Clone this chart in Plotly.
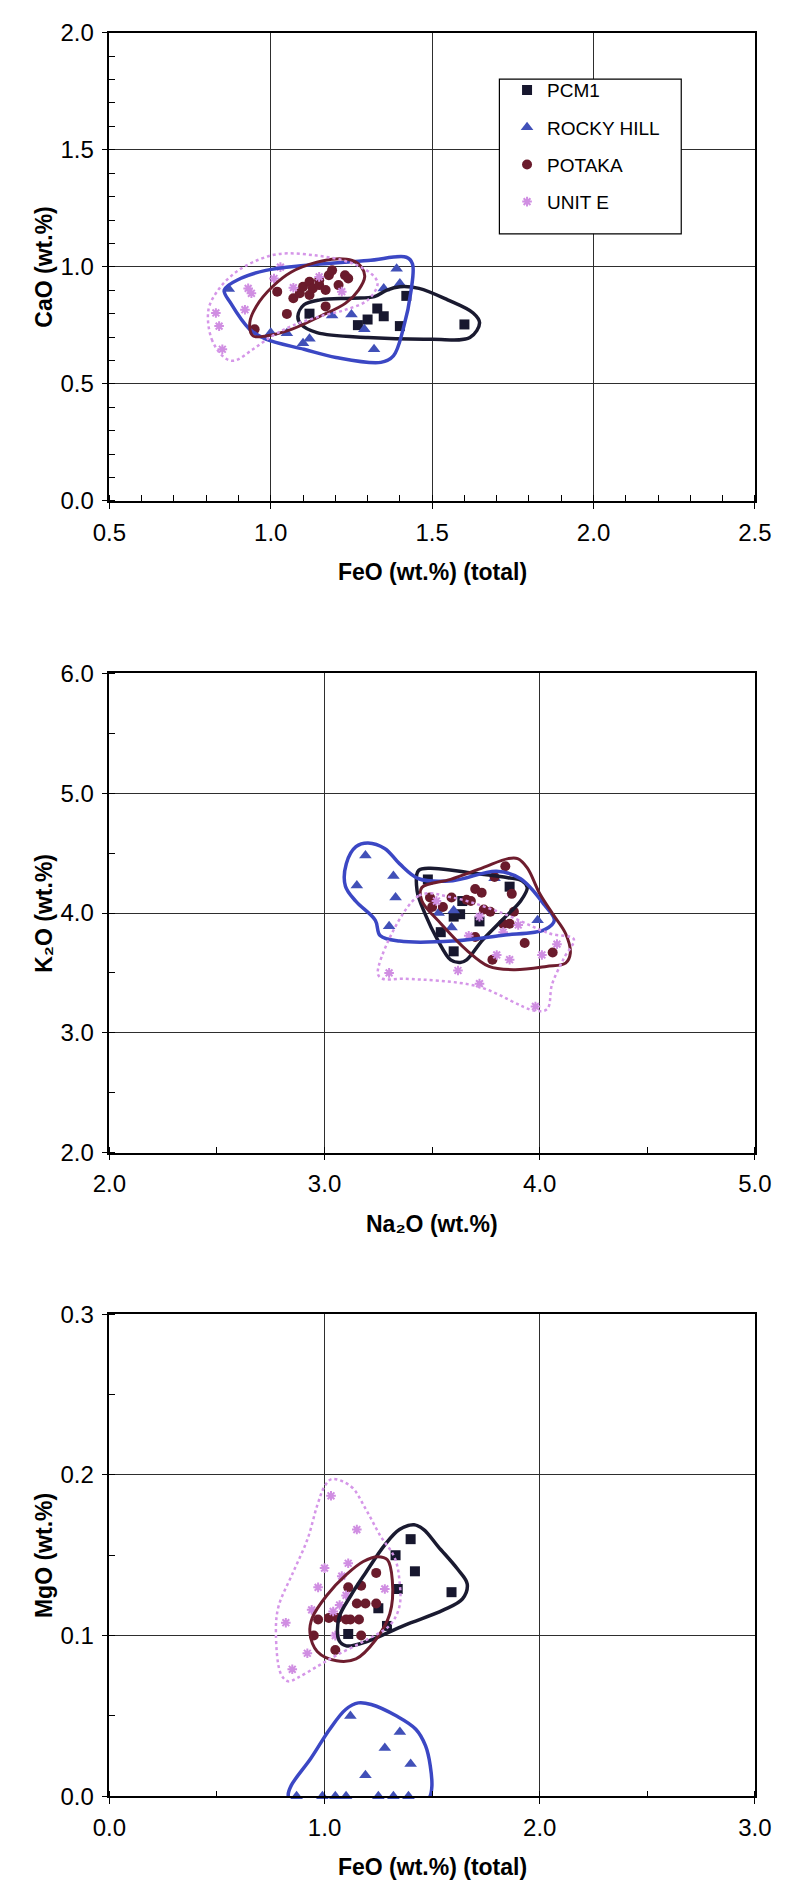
import plotly.graph_objects as go

# ---------------- Panel 1: FeO (total) vs CaO ----------------
p1_pcm1_x = [1.12, 1.42, 1.33, 1.35, 1.30, 1.27, 1.40, 1.60]
p1_pcm1_y = [0.80, 0.876, 0.822, 0.789, 0.775, 0.751, 0.747, 0.754]
p1_rocky_x = [0.87, 1.39, 1.40, 1.35, 1.25, 1.19, 1.29, 1.12, 1.10, 1.32, 1.05, 1.00]
p1_rocky_y = [0.905, 0.992, 0.929, 0.908, 0.796, 0.792, 0.733, 0.693, 0.674, 0.648, 0.716, 0.719]
p1_potaka_x = [0.95, 1.05, 1.02, 1.07, 1.09, 1.10, 1.12, 1.13, 1.15, 1.15, 1.17, 1.18,
               1.19, 1.17, 1.21, 1.23, 1.24, 1.12]
p1_potaka_y = [0.733, 0.799, 0.894, 0.866, 0.887, 0.915, 0.936, 0.908, 0.922, 0.943, 0.901, 0.964,
               0.985, 0.831, 0.922, 0.964, 0.950, 0.88]
p1_unite_x = [0.93, 0.94, 0.92, 0.83, 0.84, 0.85, 1.01, 1.03, 1.07, 1.15, 1.22]
p1_unite_y = [0.908, 0.887, 0.817, 0.803, 0.747, 0.648, 0.950, 0.999, 0.911, 0.957, 0.894]

# field outlines, panel 1
p1_env_pcm1_x = [1.084, 1.094, 1.143, 1.301, 1.499, 1.617, 1.647, 1.627, 1.548, 1.459, 1.400,
                 1.360, 1.321, 1.252, 1.153, 1.103]
p1_env_pcm1_y = [0.789, 0.754, 0.719, 0.698, 0.691, 0.698, 0.761, 0.803, 0.859, 0.908, 0.915,
                 0.901, 0.873, 0.866, 0.859, 0.838]
p1_env_rocky_x = [0.856, 0.876, 0.935, 0.985, 1.103, 1.202, 1.341, 1.380, 1.410, 1.435, 1.439,
                  1.420, 1.301, 1.103, 0.985, 0.906]
p1_env_rocky_y = [0.901, 0.845, 0.733, 0.691, 0.648, 0.613, 0.592, 0.620, 0.733, 0.901, 1.013,
                  1.041, 1.027, 1.006, 0.985, 0.950]
p1_env_potaka_x = [0.945, 0.985, 1.064, 1.153, 1.232, 1.272, 1.291, 1.281, 1.252, 1.202, 1.143,
                   1.064, 1.005, 0.955, 0.935]
p1_env_potaka_y = [0.705, 0.705, 0.733, 0.789, 0.845, 0.901, 0.957, 0.999, 1.027, 1.034, 1.020,
                   0.978, 0.915, 0.831, 0.761]
p1_env_unite_x = [0.807, 0.817, 0.856, 0.886, 0.945, 1.005, 1.064, 1.153, 1.232, 1.301, 1.331,
                  1.311, 1.242, 1.143, 1.024, 0.945, 0.886, 0.837]
p1_env_unite_y = [0.817, 0.691, 0.613, 0.599, 0.648, 0.705, 0.747, 0.789, 0.817, 0.859, 0.929,
                  0.971, 1.020, 1.048, 1.055, 1.020, 0.971, 0.901]

# ---------------- Panel 2: Na2O vs K2O ----------------
p2_pcm1_x = [3.48, 3.86, 3.64, 3.63, 3.60, 3.72, 3.54, 3.60]
p2_pcm1_y = [4.28, 4.22, 4.10, 3.99, 3.97, 3.93, 3.84, 3.68]
p2_rocky_x = [3.19, 3.15, 3.32, 3.33, 3.30, 3.53, 3.60, 3.59, 3.79, 3.99]
p2_rocky_y = [4.48, 4.23, 4.31, 4.13, 3.89, 4.00, 4.02, 3.88, 4.29, 3.94]
p2_potaka_x = [3.84, 3.79, 3.70, 3.73, 3.87, 3.59, 3.49, 3.50, 3.55, 3.66, 3.68, 3.74, 3.77,
               3.88, 3.83, 3.86, 3.70, 3.93, 3.78, 4.06]
p2_potaka_y = [4.39, 4.30, 4.20, 4.17, 4.16, 4.13, 4.13, 4.05, 4.05, 4.11, 4.10, 4.03, 4.01,
               4.01, 3.91, 3.91, 3.80, 3.75, 3.61, 3.67]
p2_unite_x = [3.30, 3.62, 3.72, 3.98, 3.80, 3.86, 4.01, 4.08, 3.83, 3.67, 3.52, 3.72, 3.90]
p2_unite_y = [3.50, 3.52, 3.41, 3.22, 3.65, 3.61, 3.65, 3.74, 3.84, 3.81, 4.10, 3.97, 3.90]

p2_env_pcm1_x = [3.437, 3.512, 3.675, 3.853, 3.919, 3.942, 3.912, 3.823, 3.734, 3.660, 3.630,
                 3.586, 3.526, 3.467, 3.430]
p2_env_pcm1_y = [4.355, 4.372, 4.336, 4.295, 4.267, 4.213, 4.103, 3.938, 3.774, 3.609, 3.587,
                 3.609, 3.774, 3.993, 4.185]
p2_env_rocky_x = [3.202, 3.146, 3.101, 3.097, 3.146, 3.236, 3.258, 3.348, 3.596, 3.821, 4.023,
                  4.068, 4.023, 3.911, 3.799, 3.596, 3.438, 3.348, 3.281]
p2_env_rocky_y = [4.585, 4.554, 4.412, 4.223, 4.097, 3.939, 3.813, 3.766, 3.766, 3.813, 3.861,
                  3.939, 4.065, 4.286, 4.349, 4.270, 4.286, 4.412, 4.537]
p2_env_potaka_x = [3.452, 3.586, 3.734, 3.853, 3.897, 3.942, 4.001, 4.060, 4.120, 4.142, 4.120,
                   4.031, 3.882, 3.764, 3.660, 3.541, 3.452]
p2_env_potaka_y = [4.213, 4.281, 4.377, 4.454, 4.454, 4.377, 4.158, 3.993, 3.829, 3.664, 3.582,
                   3.554, 3.527, 3.554, 3.691, 3.911, 4.103]
p2_env_unite_x = [3.247, 3.438, 3.596, 3.821, 4.046, 4.158, 4.113, 4.057, 4.035, 3.978, 3.708,
                  3.371, 3.270]
p2_env_unite_y = [3.498, 4.144, 4.128, 4.002, 3.829, 3.782, 3.625, 3.404, 3.199, 3.184, 3.389,
                  3.451, 3.451]

# ---------------- Panel 3: FeO (total) vs MgO ----------------
p3_pcm1_x = [1.40, 1.33, 1.42, 1.34, 1.59, 1.25, 1.29, 1.11]
p3_pcm1_y = [0.160, 0.150, 0.140, 0.129, 0.127, 0.117, 0.106, 0.101]
p3_rocky_x = [1.12, 1.35, 1.28, 1.40, 1.19, 0.87, 0.99, 1.05, 1.10, 1.25, 1.32, 1.39]
p3_rocky_y = [0.050, 0.040, 0.030, 0.020, 0.013, 0.0, 0.0, 0.0, 0.0, 0.0, 0.0, 0.0]
p3_potaka_x = [0.95, 1.05, 0.97, 1.02, 1.06, 1.11, 1.17, 1.15, 1.19, 1.24, 1.24, 1.12, 1.16,
               1.17, 1.10]
p3_potaka_y = [0.100, 0.091, 0.110, 0.111, 0.111, 0.130, 0.131, 0.120, 0.120, 0.120, 0.139,
               0.110, 0.110, 0.100, 0.110]
p3_unite_x = [1.03, 1.15, 1.11, 1.00, 1.08, 0.97, 1.28, 1.07, 0.94, 1.04, 0.82, 0.92, 0.85,
              1.05, 1.10]
p3_unite_y = [0.187, 0.166, 0.145, 0.142, 0.137, 0.130, 0.129, 0.119, 0.116, 0.115, 0.108,
              0.089, 0.079, 0.100, 0.125]

p3_env_pcm1_x = [1.416, 1.348, 1.281, 1.191, 1.123, 1.067, 1.067, 1.101, 1.191, 1.371, 1.551,
                 1.641, 1.663, 1.618, 1.528, 1.461]
p3_env_pcm1_y = [0.169, 0.166, 0.1566, 0.1391, 0.1251, 0.1111, 0.0971, 0.0936, 0.096, 0.1064,
                 0.1158, 0.1228, 0.1321, 0.1414, 0.1554, 0.166]
p3_env_rocky_x = [0.831, 0.846, 0.935, 1.024, 1.098, 1.157, 1.217, 1.335, 1.424, 1.469, 1.491,
                  1.498, 1.484, 1.395, 1.128, 0.905, 0.839]
p3_env_rocky_y = [0.0008, 0.0069, 0.0233, 0.0417, 0.054, 0.0581, 0.0571, 0.0499, 0.0417, 0.0315,
                  0.0192, 0.0049, -0.0012, -0.0043, -0.0053, -0.0043, -0.0023]
p3_env_potaka_x = [0.932, 0.966, 1.056, 1.146, 1.236, 1.303, 1.315, 1.292, 1.247, 1.180, 1.101,
                   1.011, 0.943]
p3_env_potaka_y = [0.1018, 0.0901, 0.0843, 0.0855, 0.0971, 0.1134, 0.1344, 0.1472, 0.1491,
                   0.1461, 0.1379, 0.1251, 0.1111]
p3_env_unite_x = [1.033, 1.123, 1.191, 1.258, 1.326, 1.348, 1.348, 1.303, 1.191, 1.056, 0.966,
                  0.876, 0.831, 0.797, 0.774, 0.786, 0.853, 0.921, 0.966, 1.000]
p3_env_unite_y = [0.1974, 0.1928, 0.1788, 0.1624, 0.1484, 0.1344, 0.1181, 0.1064, 0.0971,
                  0.0878, 0.0808, 0.0738, 0.0715, 0.0761, 0.1018, 0.1181, 0.1391, 0.1601,
                  0.181, 0.1928]

SERIES = ["PCM1", "ROCKY HILL", "POTAKA", "UNIT E"]

W, H = 793, 1896
X0, X1 = 96.5, 771.0
FONT = "Liberation Sans, Arial, sans-serif"

marker_style = {
    "PCM1": dict(symbol="square", color="#17172e", size=10),
    "ROCKY HILL": dict(symbol="triangle-up", color="#4150b8", size=11),
    "POTAKA": dict(symbol="circle", color="#6a1b2c", size=10),
    "UNIT E": dict(symbol="asterisk-open", color="#d08ee2", size=8,
                   line=dict(color="#d08ee2", width=2)),
}
outline_style = {
    "PCM1": dict(color="#1a1a30", width=3.5),
    "ROCKY HILL": dict(color="#3b47c4", width=3.5),
    "POTAKA": dict(color="#6e1d2e", width=3),
    "UNIT E": dict(color="#d596e8", width=2.5, dash="dot"),
}

panels = [
    dict(xa="x", ya="y", top=19, bottom=494,
         pts=[(p1_pcm1_x, p1_pcm1_y), (p1_rocky_x, p1_rocky_y),
              (p1_potaka_x, p1_potaka_y), (p1_unite_x, p1_unite_y)],
         env=[(p1_env_pcm1_x, p1_env_pcm1_y), (p1_env_rocky_x, p1_env_rocky_y),
              (p1_env_potaka_x, p1_env_potaka_y), (p1_env_unite_x, p1_env_unite_y)],
         xr=[0.5, 2.5], xmaj=0.5, xmin=0.1, yr=[0.0, 2.0], ymaj=0.5, ymin=0.1,
         xtitle="<b>FeO (wt.%) (total)</b>", ytitle="<b>CaO (wt.%)</b>"),
    dict(xa="x2", ya="y2", top=669, bottom=1155,
         pts=[(p2_pcm1_x, p2_pcm1_y), (p2_rocky_x, p2_rocky_y),
              (p2_potaka_x, p2_potaka_y), (p2_unite_x, p2_unite_y)],
         env=[(p2_env_pcm1_x, p2_env_pcm1_y), (p2_env_rocky_x, p2_env_rocky_y),
              (p2_env_potaka_x, p2_env_potaka_y), (p2_env_unite_x, p2_env_unite_y)],
         xr=[2.0, 5.0], xmaj=1.0, xmin=0.5, yr=[2.0, 6.0], ymaj=1.0, ymin=0.5,
         xtitle="<b>Na₂O (wt.%)</b>", ytitle="<b>K₂O (wt.%)</b>"),
    dict(xa="x3", ya="y3", top=1319, bottom=1808,
         pts=[(p3_pcm1_x, p3_pcm1_y), (p3_rocky_x, p3_rocky_y),
              (p3_potaka_x, p3_potaka_y), (p3_unite_x, p3_unite_y)],
         env=[(p3_env_pcm1_x, p3_env_pcm1_y), (p3_env_rocky_x, p3_env_rocky_y),
              (p3_env_potaka_x, p3_env_potaka_y), (p3_env_unite_x, p3_env_unite_y)],
         xr=[0.0, 3.0], xmaj=1.0, xmin=0.5, yr=[0.0, 0.3], ymaj=0.1, ymin=0.05,
         xtitle="<b>FeO (wt.%) (total)</b>", ytitle="<b>MgO (wt.%)</b>"),
]

fig = go.Figure()

for i, p in enumerate(panels):
    # sample points
    for name, (xs, ys) in zip(SERIES, p["pts"]):
        fig.add_trace(go.Scatter(
            x=xs, y=ys, mode="markers", name=name, legendgroup=name,
            showlegend=(i == 0), marker=marker_style[name], cliponaxis=False,
            xaxis=p["xa"], yaxis=p["ya"], hoverinfo="skip"))
    # hand-drawn compositional fields
    for name, (xs, ys) in zip(SERIES, p["env"]):
        fig.add_trace(go.Scatter(
            x=list(xs) + [xs[0]], y=list(ys) + [ys[0]], mode="lines",
            line=dict(shape="spline", smoothing=1.0, **outline_style[name]),
            showlegend=False, legendgroup=name,
            xaxis=p["xa"], yaxis=p["ya"], hoverinfo="skip"))


def axis(rng, major, minor, domain, anchor):
    return dict(
        range=rng, domain=domain, anchor=anchor, tick0=rng[0], dtick=major,
        tickformat=".1f", ticks="outside", ticklen=6, tickwidth=1.2, tickcolor="black",
        ticklabelstandoff=3,
        showline=True, linecolor="black", linewidth=1.5, mirror=True,
        showgrid=True, gridcolor="#2e2e2e", gridwidth=1, zeroline=False,
        minor=dict(tick0=rng[0], dtick=minor, ticks="inside", ticklen=6,
                   tickwidth=1.2, tickcolor="black", showgrid=False),
        tickfont=dict(family=FONT, size=24, color="black"), fixedrange=True)


xdom = [X0 / W, X1 / W]
annotations = []
for i, p in enumerate(panels):
    ydom = [1 - p["bottom"] / H, 1 - p["top"] / H]
    suffix = "" if i == 0 else str(i + 1)
    fig.layout["xaxis" + suffix] = axis(p["xr"], p["xmaj"], p["xmin"], xdom, p["ya"])
    fig.layout["yaxis" + suffix] = axis(p["yr"], p["ymaj"], p["ymin"], ydom, p["xa"])
    annotations.append(dict(
        text=p["xtitle"], xref="paper", yref="paper", x=(X0 + X1) / 2 / W,
        y=1 - (p["bottom"] + 72) / H, xanchor="center", yanchor="middle",
        showarrow=False, font=dict(family=FONT, size=23, color="black")))
    annotations.append(dict(
        text=p["ytitle"], xref="paper", yref="paper", x=28 / W,
        y=1 - (p["top"] + p["bottom"]) / 2 / H, xanchor="center", yanchor="middle",
        textangle=-90, showarrow=False, font=dict(family=FONT, size=23, color="black")))

fig.update_layout(
    width=W, height=H, autosize=False,
    margin=dict(l=0, r=0, t=0, b=0),
    paper_bgcolor="white", plot_bgcolor="white",
    font=dict(family=FONT, color="black"),
    annotations=annotations,
    shapes=[dict(type="rect", xref="paper", yref="paper",
                 x0=504 / W, x1=694 / W, y0=1 - 223 / H, y1=1 - 66 / H,
                 fillcolor="white", line=dict(color="black", width=1.2), layer="above")],
    legend=dict(x=512 / W, y=1 - 58 / H, xanchor="left", yanchor="top",
                bgcolor="rgba(0,0,0,0)", borderwidth=0, tracegroupgap=9.5,
                font=dict(family=FONT, size=19, color="black"), itemsizing="trace"),
    showlegend=True,
)

fig.write_html("out.html")
